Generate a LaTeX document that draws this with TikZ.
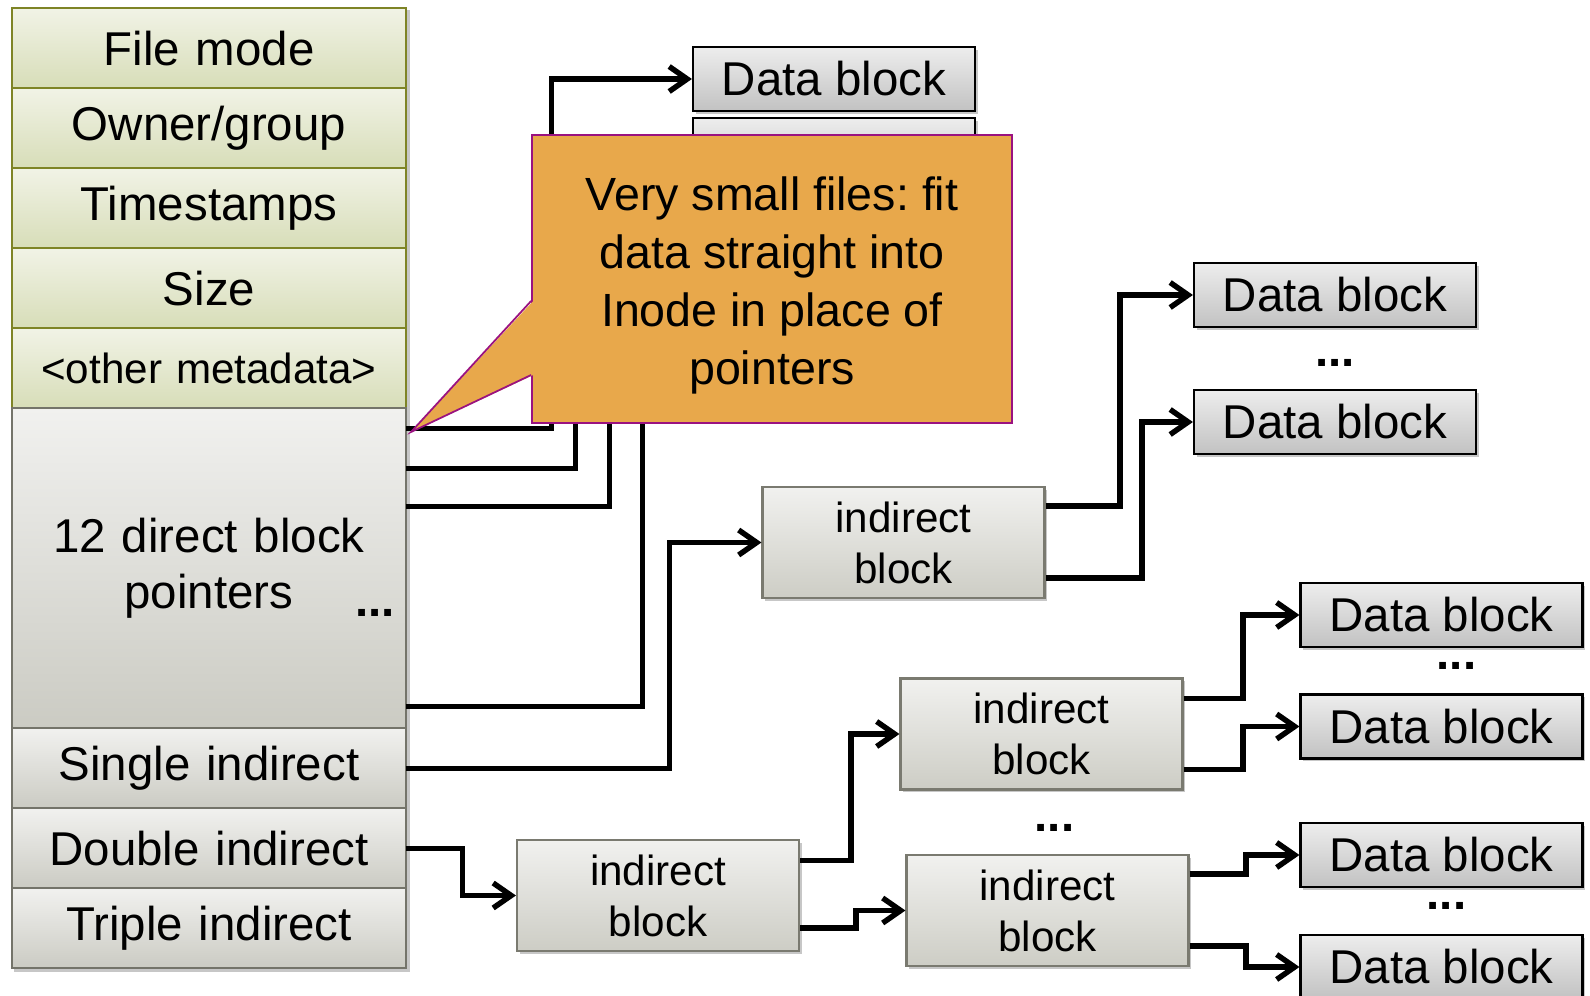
\documentclass[tikz,border=0pt]{standalone}
\usepackage{fontspec}
\setmainfont{Liberation Sans}
\usepackage{xcolor}
\usetikzlibrary{matrix,positioning,calc,arrows.meta,shadows,backgrounds}
\frenchspacing

\definecolor{rowgreenT}{HTML}{F1F3E6}
\definecolor{rowgreenB}{HTML}{D7DDB8}
\definecolor{rowgreenL}{HTML}{7E8426}
\definecolor{rowgrayT}{HTML}{F1F1EF}
\definecolor{rowgrayB}{HTML}{CBCBC3}
\definecolor{rowgrayL}{HTML}{74746A}
\definecolor{indB}{HTML}{CDCDC5}
\definecolor{indL}{HTML}{7A7A70}
\definecolor{dataT}{HTML}{EDEDED}
\definecolor{dataB}{HTML}{C2C2C2}
\definecolor{noteF}{HTML}{E8A84B}
\definecolor{noteL}{HTML}{9A1280}

\newcommand{\bigtxt}{\fontsize{27}{32}\selectfont}
\newcommand{\smalltxt}{\fontsize{24}{29}\selectfont}
\newcommand{\notetxt}{\fontsize{26.5}{33}\selectfont}

\tikzset{
	boxshadow/.style={drop shadow={shadow xshift=1.5pt,shadow yshift=-1.5pt,fill=black,opacity=0.22}},
	rowcell/.style={text width=7.87cm,minimum height=1.6cm,inner sep=0pt,outer sep=0pt,align=center,font=\bigtxt,line width=1pt},
	greenrow/.style={top color=rowgreenT,bottom color=rowgreenB,draw=rowgreenL},
	grayrow/.style={top color=rowgrayT,bottom color=rowgrayB,draw=rowgrayL},
	datablk/.style={draw=black,line width=1.2pt,top color=dataT,bottom color=dataB,minimum width=5.64cm,minimum height=1.28cm,inner sep=0pt,font=\bigtxt,boxshadow},
	indblk/.style={draw=indL,line width=1.2pt,top color=rowgrayT,bottom color=indB,minimum width=5.64cm,minimum height=2.22cm,inner sep=0pt,align=center,font=\smalltxt,boxshadow},
	note/.style={fill=noteF,draw=noteL,line width=1pt,minimum width=9.6cm,minimum height=5.76cm,inner sep=0pt},
	ptr/.style={line width=3.1pt,-{Straight Barb[length=0.36cm,width=0.5cm]}},
	ellip/.style={font=\bfseries\bigtxt,inner sep=0pt}
}

\begin{document}
\begin{tikzpicture}
\useasboundingbox (0,0) rectangle (31.8,-19.92);

% inode
\matrix [matrix of nodes,
	row sep=-1pt,
	inner sep=0pt,
	anchor=north west,
	nodes={rowcell},
	](inode) at (0.22,-0.14){
	|[greenrow]| File mode\\
	|[greenrow]| Owner/group\\
	|[greenrow]| Timestamps\\
	|[greenrow]| Size\\
	|[greenrow,font=\smalltxt]| <other metadata>\\
	|[grayrow,minimum height=6.4cm]| {12 direct block\\pointers}\\
	|[grayrow]| Single indirect\\
	|[grayrow]| Double indirect\\
	|[grayrow]| Triple indirect\\
};
\begin{scope}[on background layer]
\fill[black,opacity=0.22] ([shift={(1.5pt,-1.5pt)}]inode.north west) rectangle ([shift={(1.5pt,-1.5pt)}]inode.south east);
\end{scope}
\node[ellip] (idots) at ([xshift=-0.61cm,yshift=-0.9cm]inode-6-1.east) {...};

% blocks
\node[datablk] (db0)  at (16.68,-1.58) {Data block};
\node[datablk] (db0b) at (16.68,-3.0) {};
\node[indblk] (i1) at (18.07,-10.85) {indirect\\block};
\node[datablk] (db1) at (26.7,-5.9) {Data block};
\node[datablk] (db2) at (26.7,-8.44) {Data block};
\node[indblk] (i2) at (13.16,-17.91) {indirect\\block};
\node[indblk] (i3) at (20.83,-14.68) {indirect\\block};
\node[indblk] (i4) at (20.95,-18.21) {indirect\\block};
\node[datablk] (db3) at (28.83,-12.3) {Data block};
\node[datablk] (db4) at (28.83,-14.53) {Data block};
\node[datablk] (db5) at (28.83,-17.1) {Data block};
\node[datablk] (db6) at (28.83,-19.34) {Data block};

\node[ellip] (dots1) at ($(db1)!0.5!(db2)+(0,-0.08)$) {...};
\node[ellip] (dots2) at ($(i3)!0.5!(i4)+(0.2,-0.12)$) {...};
\node[ellip] (dots3) at ($(db3)!0.5!(db4)+(0.3,0.1)$) {...};
\node[ellip] (dots4) at ($(db5)!0.5!(db6)+(0.1,0.1)$) {...};

% direct pointers
\draw[ptr]([yshift= 2.8cm]inode-6-1.east) -- ++(2.91,0) |- (db0.west);
\draw[ptr]([yshift= 2.0cm]inode-6-1.east) -- ++(3.39,0) |- (db0b.west);
\draw[ptr]([yshift= 1.24cm]inode-6-1.east) -- ++(4.07,0) |- (db0b.west);
\draw[ptr]([yshift=-2.76cm]inode-6-1.east) -- ++(4.73,0) |- (db0b.west);

% single, double
\draw[ptr](inode-7-1.east) -- ++(5.27,0) |- (i1.west);
\draw[ptr](inode-8-1.east) -- ++(1.13,0) |- (i2.west);

\draw[ptr]([yshift= 0.73cm]i1.east) -- ++(1.49,0) |- (db1.west);
\draw[ptr]([yshift=-0.71cm]i1.east) -- ++(1.93,0) |- (db2.west);
\draw[ptr]([yshift= 0.7cm]i2.east) -- ++(1.02,0) |- (i3.west);
\draw[ptr]([yshift=-0.65cm]i2.east) -- ++(1.12,0) |- (i4.west);
\draw[ptr]([yshift= 0.71cm]i3.east) -- ++(1.19,0) |- (db3.west);
\draw[ptr]([yshift=-0.71cm]i3.east) -- ++(1.19,0) |- (db4.west);
\draw[ptr]([yshift= 0.73cm]i4.east) -- ++(1.13,0) |- (db5.west);
\draw[ptr]([yshift=-0.71cm]i4.east) -- ++(1.13,0) |- (db6.west);

% callout
\node[note] (callout) at (15.44,-5.58) {};
\coordinate (tip) at (8.22,-8.64);
\fill[noteF] ([xshift=1.2pt,yshift=-0.44cm]callout.west) -- (tip) -- ([xshift=1.2pt,yshift=-1.92cm]callout.west) -- cycle;
\draw[noteL,line width=1pt] ([yshift=-0.44cm]callout.west) -- (tip) -- ([yshift=-1.92cm]callout.west);
\node[font=\notetxt,align=center,inner sep=0pt] (calloutText) at ([yshift=-0.12cm]callout.center) {Very small files: fit\\data straight into\\Inode in place of\\pointers};
\end{tikzpicture}
\end{document}
